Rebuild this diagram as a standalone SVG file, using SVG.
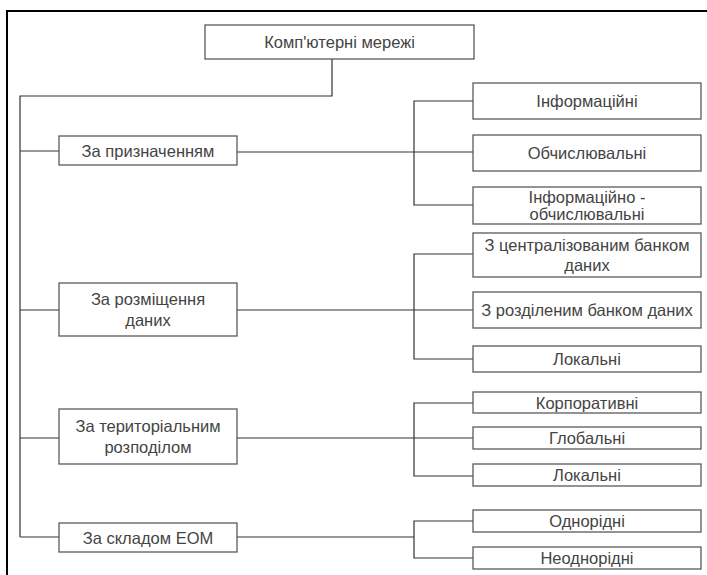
<svg xmlns="http://www.w3.org/2000/svg" width="707" height="575" viewBox="0 0 707 575">
<style>
.box{fill:#fff;stroke:#5a5a5a;stroke-width:1.3}
.t{font-family:"Liberation Sans",Arial,sans-serif;font-size:16.5px;fill:#444;text-anchor:middle;dominant-baseline:central}
.c{fill:none;stroke:#333;stroke-width:1.2}
</style>
<rect width="707" height="575" fill="#fff"/>
<path d="M7,575 V11 H707" fill="none" stroke="#000" stroke-width="2"/>
<g id="connectors" class="c">
<path d="M332,59 V96 H20 V537"/>
<path d="M20,151 H59"/>
<path d="M20,310 H59"/>
<path d="M20,438 H59"/>
<path d="M20,537 H59"/>
<path d="M237,152 H473"/>
<path d="M473,101 H414 V205 H473"/>
<path d="M237,310 H473"/>
<path d="M473,254 H414 V359 H473"/>
<path d="M237,438 H473"/>
<path d="M473,403 H414 V476 H473"/>
<path d="M237,537 H414"/>
<path d="M473,521 H414 V558 H473"/>
</g>
<g id="root"><rect class="box" x="205" y="25" width="269" height="34"/><text class="t" x="339.5" y="42">Комп'ютерні мережі</text></g>
<g id="n1"><rect class="box" x="59" y="136" width="178" height="29"/><text class="t" x="148" y="150.5">За призначенням</text></g>
<g id="n2"><rect class="box" x="59" y="283" width="178" height="53"/><text class="t" x="148" y="299">За розміщення</text><text class="t" x="148" y="320">даних</text></g>
<g id="n3"><rect class="box" x="59" y="409" width="178" height="55"/><text class="t" x="148" y="426">За територіальним</text><text class="t" x="148" y="447">розподілом</text></g>
<g id="n4"><rect class="box" x="59" y="523" width="178" height="29"/><text class="t" x="148" y="537.5">За складом ЕОМ</text></g>
<g id="c1"><rect class="box" x="473" y="83" width="228" height="36"/><text class="t" x="587" y="101">Інформаційні</text></g>
<g id="c2"><rect class="box" x="473" y="135" width="228" height="36"/><text class="t" x="587" y="153">Обчислювальні</text></g>
<g id="c3"><rect class="box" x="473" y="187" width="228" height="37"/><text class="t" x="587" y="196.5">Інформаційно -</text><text class="t" x="587" y="214">обчислювальні</text></g>
<g id="c4"><rect class="box" x="473" y="233" width="228" height="44"/><text class="t" x="587" y="245">З централізованим банком</text><text class="t" x="587" y="265">даних</text></g>
<g id="c5"><rect class="box" x="473" y="292" width="228" height="36"/><text class="t" x="587" y="310">З розділеним банком даних</text></g>
<g id="c6"><rect class="box" x="473" y="346" width="228" height="26"/><text class="t" x="587" y="359">Локальні</text></g>
<g id="c7"><rect class="box" x="473" y="392" width="228" height="21"/><text class="t" x="587" y="402.5">Корпоративні</text></g>
<g id="c8"><rect class="box" x="473" y="427" width="228" height="22"/><text class="t" x="587" y="438">Глобальні</text></g>
<g id="c9"><rect class="box" x="473" y="464" width="228" height="22"/><text class="t" x="587" y="475">Локальні</text></g>
<g id="c10"><rect class="box" x="473" y="510" width="228" height="22"/><text class="t" x="587" y="521">Однорідні</text></g>
<g id="c11"><rect class="box" x="473" y="547" width="228" height="22"/><text class="t" x="587" y="558">Неоднорідні</text></g>
</svg>
